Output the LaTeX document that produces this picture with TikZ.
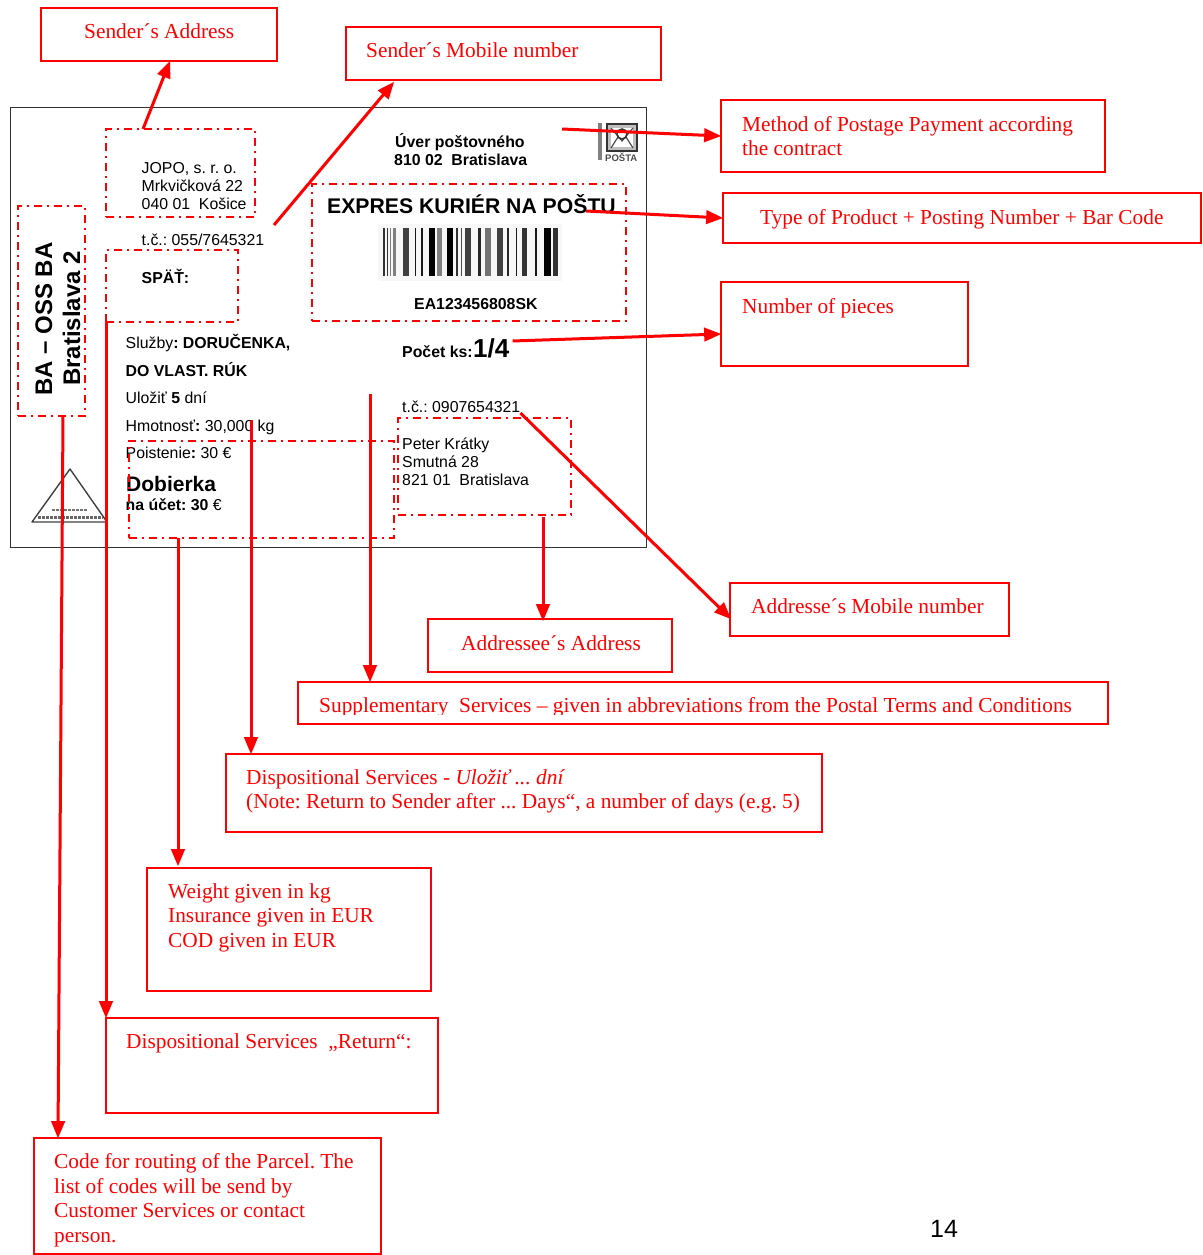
\documentclass[tikz,border=0pt]{standalone}
\usepackage{fontspec}
\setmainfont{Liberation Serif}
\newfontfamily\arialfont{Liberation Sans}
\usetikzlibrary{arrows,calc}

\tikzset{
  redbox/.style={draw=red, line width=1.7pt, inner sep=0pt, outer sep=0pt, anchor=north west},
  zone/.style={draw=red, line width=1.7pt, inner sep=0pt, outer sep=0pt, anchor=north west,
    dash pattern=on 8pt off 5pt on 2pt off 5pt},
  redtext/.style={text=red, inner sep=0pt, anchor=base west, font=\fontsize{21.35}{24}\selectfont},
  cardtext/.style={inner sep=0pt, anchor=base west, font=\arialfont\fontsize{15.85}{18}\selectfont},
  pointer/.style={->, >=triangle 45, draw=red, line width=3pt}
}

\begin{document}
\frenchspacing
\begin{tikzpicture}[x=1pt, y=-1pt]
  \useasboundingbox (0,0) rectangle (1202,1255);

  % the parcel card
  \node[draw=black!80, line width=0.8pt, inner sep=0pt, outer sep=0pt, anchor=north west,
    minimum width=636pt, minimum height=440pt] (card) at (10,107) {};

  \foreach \name/\x/\y/\txt in {
      c1/141.5/173/{JOPO, s. r. o.}, c2/141.5/191/{Mrkvičková 22}, c3/141.5/209/{040 01~ Košice},
      c4/141.5/245.5/{t.č.: 055/7645321}, c5/141.5/283/{\textbf{SPÄŤ:}},
      c6/395/147/{\textbf{Úver poštovného}}, c7/394/165/{\textbf{810 02~ Bratislava}},
      c8/414/309/{\textbf{EA123456808SK}},
      c9/125.5/348/{Služby\textbf{: DORUČENKA,}}, c10/125.5/376/{\textbf{DO VLAST. RÚK}},
      c11/125.5/403.5/{Uložiť \textbf{5} dní}, c12/125.5/431/{Hmotnosť\textbf{:} 30,000 kg},
      c13/125.5/458/{Poistenie\textbf{:} 30 €}, c14/125.5/510/{\textbf{na účet: 30} €},
      c15/402/412/{t.č.: 0907654321}, c16/402/449/{Peter Krátky},
      c17/402/467/{Smutná 28}, c18/402/485/{821 01~ Bratislava}} {
    \node[cardtext] (\name) at (\x,\y) {\txt};
  }
  \node[cardtext, font=\arialfont\bfseries\fontsize{21.2}{24}\selectfont] (product) at (327,213) {EXPRES KURIÉR NA POŠTU};
  \node[cardtext, font=\arialfont\bfseries\fontsize{21}{24}\selectfont] (dobierka) at (126,491) {Dobierka};
  \node[cardtext, font=\arialfont\bfseries\fontsize{15.85}{18}\selectfont] (pocet) at (402,357) {Počet ks:};
  \node[cardtext, font=\arialfont\bfseries\fontsize{26}{28}\selectfont] (pieces) at (473,357) {1/4};
  \node[cardtext, font=\arialfont\bfseries\fontsize{24}{24}\selectfont, rotate=90] (routea) at (52,396) {BA – OSS BA};
  \node[cardtext, font=\arialfont\bfseries\fontsize{24}{24}\selectfont, rotate=90] (routeb) at (80,386) {Bratislava 2};
  \node[cardtext, font=\arialfont\fontsize{25}{28}\selectfont] (pageno) at (930,1237) {14};

  % bar code
  \fill[black!3] (378,224) rectangle (562,281);
  \foreach \x/\w/\c in {383.3/1.7/80, 386.7/1.7/80, 390/1/50, 393.3/2.7/50, 402.7/6.7/75, 414.7/1.3/90,
      420.7/2/90, 428.7/6.3/100, 437.3/4.3/50, 446.7/6/100, 456/2.3/80, 460.7/1.3/70, 464.7/6/75,
      478/3.3/85, 485/5.7/55, 497.3/6/75, 507.3/1.7/85, 515.7/1.7/90, 521.7/5.7/80, 535/2.3/90,
      544/7.3/100, 553.3/4.3/80} {
    \fill[black!\c] (\x,228) rectangle (\x+\w,276);
  }

  % post logo
  \fill[black!25] (607,124) rectangle (637,151);
  \fill[white] (611,128) rectangle (633,147);
  \draw[black!80, line width=1.6pt] (607,124) rectangle (637,151);
  \draw[black!70, line width=1.2pt] (611,128) -- (622,141) -- (633,128) (611,148) -- (618,137) (633,148) -- (626,137);
  \draw[black!80, line width=1.5pt] (622,134) circle (5);
  \fill[black!50] (598,123) rectangle (602,160);
  \node[cardtext, text=black!70, font=\arialfont\bfseries\fontsize{9.5}{10}\selectfont] (posta) at (605,161) {POŠTA};

  % triangle logo
  \draw[black!75, line width=1.4pt, line join=round] (70,469) -- (107,522) -- (32,522) -- cycle;
  \draw[black!55, line width=2.5pt, dash pattern=on 3pt off 1pt] (52,510) -- (88,510);
  \draw[black!60, line width=3pt, dash pattern=on 3pt off 1pt] (38,517) -- (103,517);

  % dashed zones on the card
  \foreach \name/\x/\y/\w/\h in {
      zsender/106/129/149/88, zspat/106/250/132/72, zrouting/18/206/67/210,
      zproduct/312/184/314/137, zcod/129/441/265/97, zaddressee/398/418/173/97} {
    \node[zone, minimum width=\w pt, minimum height=\h pt] (\name) at (\x,\y) {};
  }

  % boxes with the notes
  \foreach \name/\x/\y/\w/\h in {
      bsender/41/8/236/53, bmobile/346/27/315/53, bpayment/721/100/384/72,
      bproduct/723/193/478/50, bpieces/721/282/247/84, baddrmobile/730/583/279/53,
      baddress/428/619/244/53, bsupp/298/682/810/42, bdispo/226/754/596/78,
      bweight/147/868/284/123, breturn/106/1018/332/95, bcode/34/1138/347/116} {
    \node[redbox, minimum width=\w pt, minimum height=\h pt] (\name) at (\x,\y) {};
  }

  \foreach \name/\x/\y/\txt in {
      r1/84/38/{Sender´s Address}, r2/366/57/{Sender´s Mobile number},
      r3/742/131/{Method of Postage Payment according}, r4/742/155/{the contract},
      r5/760/224/{Type of Product + Posting Number + Bar Code}, r6/742/313/{Number of pieces},
      r7/751/613/{Addresse´s Mobile number}, r8/461/650/{Addressee´s Address},
      r10/246/784/{Dispositional Services - \textit{Uložiť ... dní}},
      r11/246/808/{(Note: Return to Sender after ... Days“, a number of days (e.g. 5)},
      r12/168/898/{Weight given in kg}, r13/168/922/{Insurance given in EUR}, r14/168/947/{COD given in EUR},
      r15/126/1048/{Dispositional Services~ „Return“:},
      r16/54/1168/{Code for routing of the Parcel. The}, r17/54/1193/{list of codes will be send by},
      r18/54/1217/{Customer Services or contact}, r19/54/1242/{person.}} {
    \node[redtext] (\name) at (\x,\y) {\txt};
  }
  \begin{scope}
    \clip (298,682) rectangle (1108,714);
    \node[redtext] (r9) at (319,712) {Supplementary~ Services – given in abbreviations from the Postal Terms and Conditions};
  \end{scope}

  % free ends of the pointers
  \coordinate (mobilestart) at (274,225);
  \coordinate (paystart) at (562,129);
  \coordinate (typestart) at (586,211);
  \coordinate (servstart) at (370,394);
  \coordinate (dispostart) at (251,420);

  \draw[pointer] ($(zsender.north west)+(37,0)$) -- ($(bsender.south west)+(129,0)$);
  \draw[pointer] (mobilestart) -- ($(bmobile.south west)+(48,2)$);
  \draw[pointer] (paystart) -- (bpayment.west);
  \draw[pointer] (typestart) -- (bproduct.west);
  \draw[pointer] ($(pieces.base east)+(3,-16)$) -- ($(bpieces.north west)+(0,52)$);
  \draw[pointer] ($(c15.base east)+(0,1)$) -- ($(baddrmobile.north west)+(1,36)$);
  \draw[pointer] ($(zaddressee.south west)+(145,2)$) -- ($(baddress.north west)+(115,2)$);
  \draw[pointer] (servstart) -- ($(bsupp.north west)+(72,0)$);
  \draw[pointer] (dispostart) -- ($(bdispo.north west)+(25,0)$);
  \draw[pointer] ($(zcod.south west)+(49,0)$) -- ($(bweight.north west)+(31,-2)$);
  \draw[pointer] (zspat.south west) -- (breturn.north west);
  \draw[pointer] ($(zrouting.south west)+(45,0)$) -- ($(bcode.north west)+(24,0)$);
\end{tikzpicture}
\end{document}
